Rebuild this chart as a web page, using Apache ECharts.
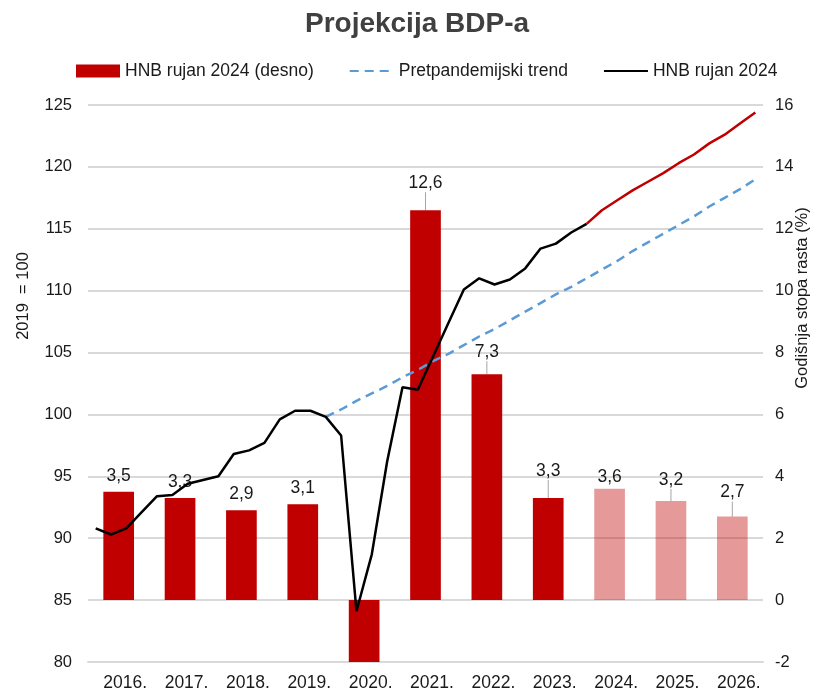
<!DOCTYPE html>
<html>
<head>
<meta charset="utf-8">
<title>Projekcija BDP-a</title>
<script src="https://cdn.jsdelivr.net/npm/echarts@6/dist/echarts.min.js"></script>
<style>
  html, body { margin: 0; padding: 0; background: #fff; }
  #chart { width: 834px; height: 694px; }
</style>
</head>
<body>
<div id="chart"></div>
<script>
    // godine (stupci) i godišnja stopa rasta, desna os
    var years = ['2016.', '2017.', '2018.', '2019.', '2020.', '2021.', '2022.', '2023.', '2024.', '2025.', '2026.'];
    var growth = [3.5, 3.3, 2.9, 3.1, -8.5, 12.6, 7.3, 3.3, 3.6, 3.2, 2.7];
    var projectedYears = ['2024.', '2025.', '2026.'];

    // razina BDP-a, 2019 = 100, tromjesečno
    var hnbActual = [90.8, 90.3, 90.8, 92.1, 93.4, 93.5, 94.4, 94.7, 95.0, 96.8, 97.1, 97.7,
        99.6, 100.3, 100.3, 99.8, 98.3, 84.1, 88.7, 96.2, 102.2, 102.0, 104.7, 107.4,
        110.1, 111.0, 110.5, 110.9, 111.8, 113.4, 113.8, 114.7, 115.4];          // 2016Q1 - 2024Q1
    var hnbProjection = [115.4, 116.5, 117.3, 118.1, 118.8, 119.5, 120.3, 121.0, 121.9, 122.6, 123.5, 124.4]; // 2024Q1 - 2026Q4
    var preTrend = [99.8, 100.4, 101.1, 101.7, 102.3, 103.0, 103.6, 104.3, 104.9, 105.6, 106.3, 106.9,
        107.6, 108.3, 109.0, 109.7, 110.3, 111.0, 111.7, 112.4, 113.2, 113.9, 114.6, 115.3,
        116.0, 116.8, 117.5, 118.2, 119.0];                                        // 2019Q4 - 2026Q4

    // oznake podignute iznad stupca, s crtom
    var leaderShift = { '2021.': 11, '2022.': 6, '2023.': 11, '2025.': 5, '2026.': 8 };

    var quarters = [];
    years.forEach(function (y) {
        for (var q = 1; q <= 4; q++) {
            quarters.push(y + 'Q' + q);
        }
    });

    var pad = function (arr, startIdx) {
        var out = [];
        for (var i = 0; i < quarters.length; i++) {
            var k = i - startIdx;
            out.push(k >= 0 && k < arr.length ? arr[k] : null);
        }
        return out;
    };

    var fontFamily = 'Liberation Sans, Arial, sans-serif';
    var textColor = '#1a1a1a';
    var gridColor = '#d9d9d9';

    var barData = growth.map(function (v, i) {
        var y = years[i];
        var proj = projectedYears.indexOf(y) >= 0;
        return {
            value: v,
            itemStyle: { color: proj ? 'rgba(192,0,0,0.4)' : '#c00000' },
            label: { show: v > 0, distance: y === '2024.' ? 3 : 7 },
            labelLine: { show: leaderShift[y] !== undefined }
        };
    });

    var chart = echarts.init(document.getElementById('chart'));

    var option = {
        animation: false,
        backgroundColor: '#fff',
        textStyle: { fontFamily: fontFamily },
        title: {
            text: 'Projekcija BDP-a',
            left: 'center',
            top: 5,
            textStyle: { fontSize: 28, fontWeight: 'bold', color: '#404040', fontFamily: fontFamily }
        },
        legend: {
            left: 76,
            top: 62,
            padding: 0,
            itemWidth: 44,
            itemHeight: 13,
            itemGap: 35,
            textStyle: { fontSize: 17.5, color: textColor, fontFamily: fontFamily },
            data: [
                { name: 'HNB rujan 2024 (desno)', icon: 'rect' },
                { name: 'Pretpandemijski trend', itemStyle: { opacity: 0 } },
                { name: 'HNB rujan 2024', itemStyle: { opacity: 0 } }
            ]
        },
        grid: { left: 88, right: 71, top: 105, bottom: 32 },
        xAxis: [
            {
                type: 'category',
                data: years,
                axisLine: { onZero: false, lineStyle: { color: gridColor, width: 2 } },
                axisTick: { show: false },
                axisLabel: { fontSize: 17.5, color: textColor, margin: 12, padding: [0, 0, 0, 13] }
            },
            {
                type: 'category',
                data: quarters,
                show: false
            }
        ],
        yAxis: [
            {
                type: 'value',
                min: 80,
                max: 125,
                interval: 5,
                axisLine: { show: false },
                axisTick: { show: false },
                axisLabel: { fontSize: 16.5, color: textColor, margin: 16 },
                splitLine: { lineStyle: { color: gridColor, width: 2 } }
            },
            {
                type: 'value',
                position: 'right',
                min: -2,
                max: 16,
                interval: 2,
                axisLine: { show: false },
                axisTick: { show: false },
                axisLabel: { fontSize: 16.5, color: textColor, margin: 12 },
                splitLine: { show: false }
            }
        ],
        graphic: [
            {
                type: 'text', x: 23, y: 296, rotation: Math.PI / 2,
                style: { text: '2019  = 100', fontSize: 16.5, fill: textColor, fontFamily: fontFamily, align: 'center', verticalAlign: 'middle' }
            },
            {
                type: 'text', x: 802, y: 298, rotation: Math.PI / 2,
                style: { text: 'Godišnja stopa rasta (%)', fontSize: 16.5, fill: textColor, fontFamily: fontFamily, align: 'center', verticalAlign: 'middle' }
            }
        ],
        series: [
            {
                name: 'HNB rujan 2024 (desno)',
                type: 'bar',
                xAxisIndex: 0,
                yAxisIndex: 1,
                barWidth: '50%',
                itemStyle: { color: '#c00000' },
                label: {
                    show: true,
                    position: 'top',
                    fontSize: 17.5,
                    color: textColor,
                    formatter: function (p) {
                        return String(p.value).replace('.', ',');
                    }
                },
                labelLayout: function (params) {
                    var shift = leaderShift[years[params.dataIndex]];
                    return shift ? { dy: -shift } : {};
                },
                labelLine: { show: false, lineStyle: { color: '#a6a6a6', width: 1 } },
                data: barData
            },
            {
                name: 'Pretpandemijski trend',
                type: 'line',
                xAxisIndex: 1,
                yAxisIndex: 0,
                showSymbol: false,
                symbol: 'none',
                lineStyle: { color: '#5b9bd5', width: 2.5, type: [9, 6] },
                itemStyle: { color: '#5b9bd5' },
                data: pad(preTrend, 15)
            },
            {
                name: 'HNB rujan 2024',
                type: 'line',
                xAxisIndex: 1,
                yAxisIndex: 0,
                showSymbol: false,
                symbol: 'none',
                lineStyle: { color: '#000', width: 2.5 },
                itemStyle: { color: '#000' },
                data: pad(hnbActual, 0)
            },
            {
                name: 'HNB projekcija',
                type: 'line',
                xAxisIndex: 1,
                yAxisIndex: 0,
                showSymbol: false,
                symbol: 'none',
                lineStyle: { color: '#c00000', width: 2.5 },
                itemStyle: { color: '#c00000' },
                data: pad(hnbProjection, 32)
            }
        ]
    };

    chart.setOption(option);
</script>
</body>
</html>
